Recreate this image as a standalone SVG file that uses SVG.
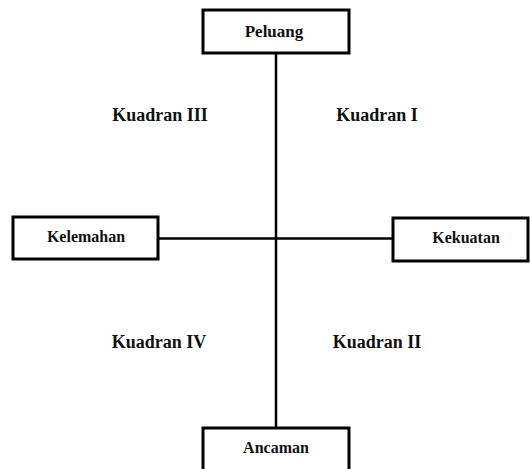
<svg xmlns="http://www.w3.org/2000/svg" width="530" height="469" viewBox="0 0 530 469">
<style>
.box{fill:#fff;stroke:#000;stroke-width:3}
.lbl{font-family:"Liberation Serif","Times New Roman",serif;font-weight:bold;font-size:16px;text-anchor:middle;fill:#111}
.q{font-family:"Liberation Serif","Times New Roman",serif;font-weight:bold;font-size:18px;text-anchor:middle;fill:#111}
.ln{stroke:#000;stroke-width:2.5;fill:none}
</style>
<rect width="530" height="469" fill="#fff"/>
<g id="connectors">
<line class="ln" x1="276" y1="53" x2="276" y2="428"/>
<line class="ln" x1="158" y1="238.5" x2="393" y2="238.5"/>
</g>
<g id="peluang">
<rect class="box" x="203" y="10" width="146" height="43"/>
<text class="lbl" x="274" y="36.5" style="font-size:17px">Peluang</text>
</g>
<g id="kelemahan">
<rect class="box" x="13" y="217" width="145" height="42"/>
<text class="lbl" x="86" y="242">Kelemahan</text>
</g>
<g id="kekuatan">
<rect class="box" x="393" y="218" width="135" height="43"/>
<text class="lbl" x="466" y="243">Kekuatan</text>
</g>
<g id="ancaman">
<rect class="box" x="203" y="428" width="146" height="45"/>
<text class="lbl" x="276" y="453">Ancaman</text>
</g>
<g id="quadrants">
<text class="q" x="160" y="121">Kuadran III</text>
<text class="q" x="377" y="121">Kuadran I</text>
<text class="q" x="159" y="348">Kuadran IV</text>
<text class="q" x="377" y="348">Kuadran II</text>
</g>
</svg>
